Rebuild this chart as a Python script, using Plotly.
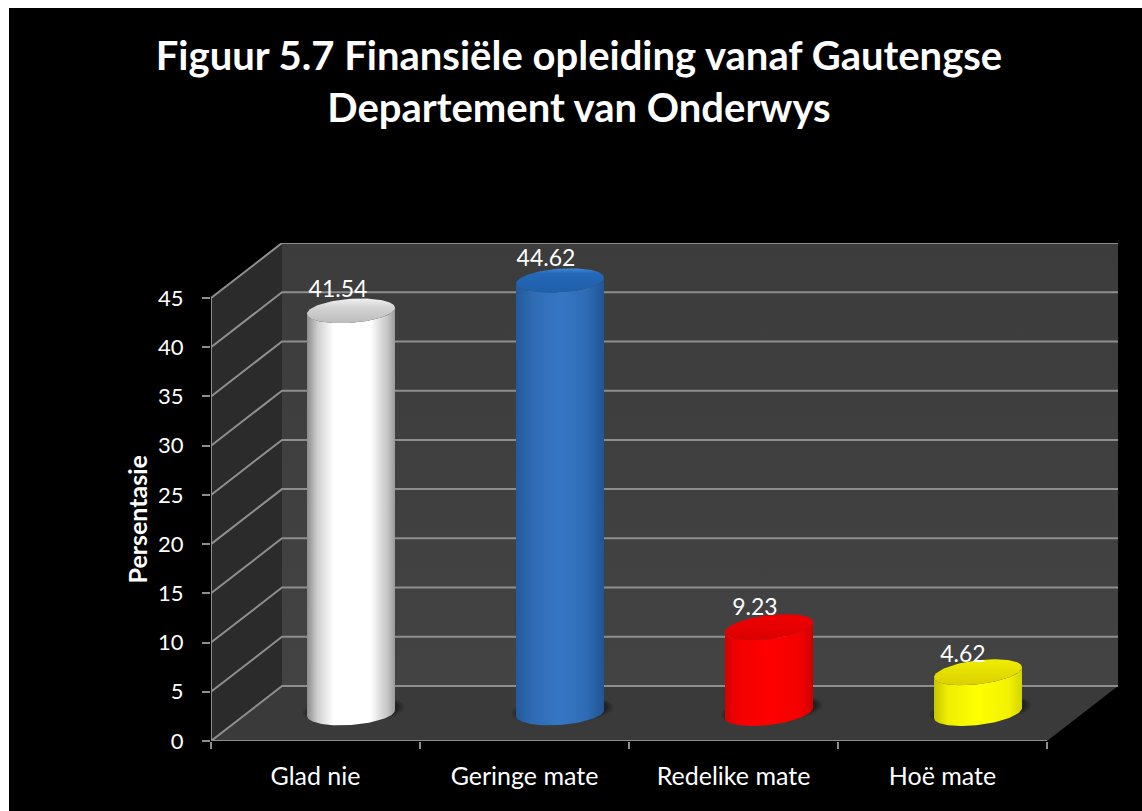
import numpy as np
import plotly.graph_objects as go

CATEGORIES = ["Glad nie", "Geringe mate", "Redelike mate", "Hoë mate"]
VALUES = [41.54, 44.62, 9.23, 4.62]
Y_TICKS = [0, 5, 10, 15, 20, 25, 30, 35, 40, 45]
Y_TITLE = "Persentasie"
TITLE = "Figuur 5.7 Finansiële opleiding vanaf Gautengse<br>Departement van Onderwys"

# style
W, H = 1142, 811
X0, X1, Y0, Y45 = 211, 1047, 741, 298   # front frame of the 3D box, in pixels
PX_X = (X1 - X0) / 4
PX_Y = (Y0 - Y45) / 45
DX = 71 / PX_X
DY = 55 / PX_Y
ML, MR, MT, MB = X0, W - X1 - 71, Y45 - 55, H - Y0
FONT = "Lato, Carlito, Calibri, sans-serif"
BODY = [
    [[0, "#8c8c8c"], [0.12, "#cfcfcf"], [0.3, "#ffffff"], [0.72, "#ffffff"], [0.92, "#c4c4c4"], [1, "#9a9a9a"]],
    [[0, "#235a9c"], [0.2, "#2f6cb5"], [0.5, "#3576c4"], [0.8, "#2f6cb5"], [1, "#1f5594"]],
    [[0, "#d80000"], [0.15, "#f40000"], [0.5, "#ff0000"], [0.85, "#f40000"], [1, "#cf0000"]],
    [[0, "#c4c400"], [0.15, "#eeee00"], [0.5, "#ffff00"], [0.85, "#f2f200"], [1, "#d4d400"]],
]
TOPS = [
    [[0, "#bcbcbc"], [0.6, "#d2d2d2"], [1, "#f0f0f0"]],
    [[0, "#1f5fa8"], [0.8, "#2468b8"], [1, "#3f8ae0"]],
    [[0, "#dc0000"], [1, "#f00000"]],
    [[0, "#dcd000"], [1, "#eeee00"]],
]
TILT_PX = [3, 3, 5, 5]
LABEL_DX_PX = [-13, -14, -14, -15]
LABEL_DY_PX = [20, 20, 18, 16]
SEMI_A = 44 / PX_X
SEMI_B = 12 / PX_Y
BASE = 28 / PX_Y        # centre of the bottom ellipse
TOP_BASE = 23.5 / PX_Y  # origin of the top ellipse heights
SCALE = 0.9945
LINE = "#8e8e8e"

fig = go.Figure()


def add_poly(xs, ys, **kw):
    fig.add_trace(go.Scatter(x=xs, y=ys, mode="lines", fill="toself", line=dict(width=0),
                             hoverinfo="skip", showlegend=False, cliponaxis=False, **kw))


xl, xr = -0.5, len(CATEGORIES) - 0.5
yt = Y_TICKS[-1]
# side wall, back wall, floor
add_poly([xl, xl + DX, xl + DX, xl, xl], [0, DY, yt + DY, yt, 0], fillcolor="#2b2b2b")
add_poly([xl + DX, xr + DX, xr + DX, xl + DX, xl + DX], [DY, DY, yt + DY, yt + DY, DY],
         fillgradient=dict(type="vertical", colorscale=[[0, "#434343"], [1, "#3c3c3c"]]))
add_poly([xl, xr, xr + DX, xl + DX, xl], [0, 0, DY, DY, 0], fillcolor="#3a3a3a")

# gridlines on the walls plus the front axis lines
gx, gy = [], []
for v in Y_TICKS:
    gx += [xl, xl + DX, xr + DX, None]
    gy += [v, v + DY, v + DY, None]
gx += [xl, xl, None, xl, xr, None]
gy += [yt, 0, None, 0, 0, None]
fig.add_trace(go.Scatter(x=gx, y=gy, mode="lines", line=dict(color=LINE, width=2), hoverinfo="skip",
                         showlegend=False, cliponaxis=False))

t = np.linspace(0, 2 * np.pi, 121)
front = np.linspace(np.pi, 2 * np.pi, 61)  # lower half in data coords


def ellipse(cx, cy, tilt, theta, a=SEMI_A, b=SEMI_B):
    return cx + a * np.cos(theta), cy + b * np.sin(theta) + tilt / PX_Y * np.cos(theta)


for i, v in enumerate(VALUES):
    cx = i + DX / 2
    tilt = TILT_PX[i]
    top = TOP_BASE + v * SCALE
    # soft shadow on the floor
    for grow, op in [(1.16, 0.10), (1.1, 0.14), (1.04, 0.2)]:
        sx, sy = ellipse(cx + 0.012, BASE + 0.3, tilt, t, SEMI_A * grow, SEMI_B * grow)
        add_poly(sx.tolist(), sy.tolist(), fillcolor="#000000", opacity=op)
    # body
    bx, by = ellipse(cx, BASE, tilt, front)
    tx, ty = ellipse(cx, top, tilt, front[::-1])
    add_poly(np.r_[bx, tx, bx[0]].tolist(), np.r_[by, ty, by[0]].tolist(),
             fillgradient=dict(type="horizontal", colorscale=BODY[i]))
    # top face
    ex, ey = ellipse(cx, top, tilt, t)
    add_poly(ex.tolist(), ey.tolist(), fillgradient=dict(type="vertical", colorscale=TOPS[i]))

# data labels
fig.add_trace(go.Scatter(
    x=[i + DX / 2 + LABEL_DX_PX[i] / PX_X for i in range(len(VALUES))],
    y=[TOP_BASE + v * SCALE + LABEL_DY_PX[i] / PX_Y for i, v in enumerate(VALUES)],
    mode="text", text=[f"{v:.2f}" for v in VALUES], textposition="middle center",
    textfont=dict(family=FONT, size=23, color="#ffffff"),
    hoverinfo="skip", showlegend=False, cliponaxis=False))

plot_w, plot_h = W - ML - MR, H - MT - MB
fig.update_layout(
    width=W, height=H, autosize=False,
    margin=dict(l=ML, r=MR, t=MT, b=MB, pad=0),
    paper_bgcolor="#ffffff", plot_bgcolor="rgba(0,0,0,0)",
    font=dict(family=FONT, color="#ffffff"),
    showlegend=False,
    title=dict(text=TITLE, x=579 / W, xanchor="center", xref="container",
               y=1 - 70 / H, yanchor="top", yref="container",
               font=dict(family=FONT, size=40, color="#ffffff", weight="bold")),
    shapes=[dict(type="rect", xref="paper", yref="paper", layer="below", line=dict(width=0),
                 fillcolor="#000000",
                 x0=(9 - ML) / plot_w, x1=(W - ML) / plot_w,
                 y0=-MB / plot_h, y1=1 + (MT - 8) / plot_h)],
    annotations=[dict(text=f"<b>{Y_TITLE}</b>", textangle=-90, xref="paper", yref="y",
                      x=(136 - ML) / plot_w, y=yt / 2, showarrow=False, xanchor="center", yanchor="middle",
                      font=dict(family=FONT, size=25, color="#ffffff"))],
    xaxis=dict(
        range=[xl, xr + DX], tickmode="array", tickvals=list(range(len(CATEGORIES))), ticktext=CATEGORIES,
        ticks="", showgrid=False, zeroline=False, showline=False,
        tickfont=dict(family=FONT, size=25, color="#ffffff"), ticklabelstandoff=18,
        minor=dict(tickmode="array", tickvals=[i - 0.5 for i in range(len(CATEGORIES) + 1)],
                   ticks="outside", ticklen=7, tickwidth=2, tickcolor=LINE, showgrid=False),
    ),
    yaxis=dict(
        range=[0, yt + DY], tickmode="array", tickvals=Y_TICKS, ticks="outside", ticklen=8, tickwidth=2,
        tickcolor=LINE, showgrid=False, zeroline=False, showline=False,
        tickfont=dict(family=FONT, size=22, color="#ffffff"), ticklabelstandoff=14,
    ),
)

fig.write_html("out.html", config=dict(displayModeBar=False),
               post_script="document.body.style.margin='0';document.documentElement.style.overflow='hidden';")
